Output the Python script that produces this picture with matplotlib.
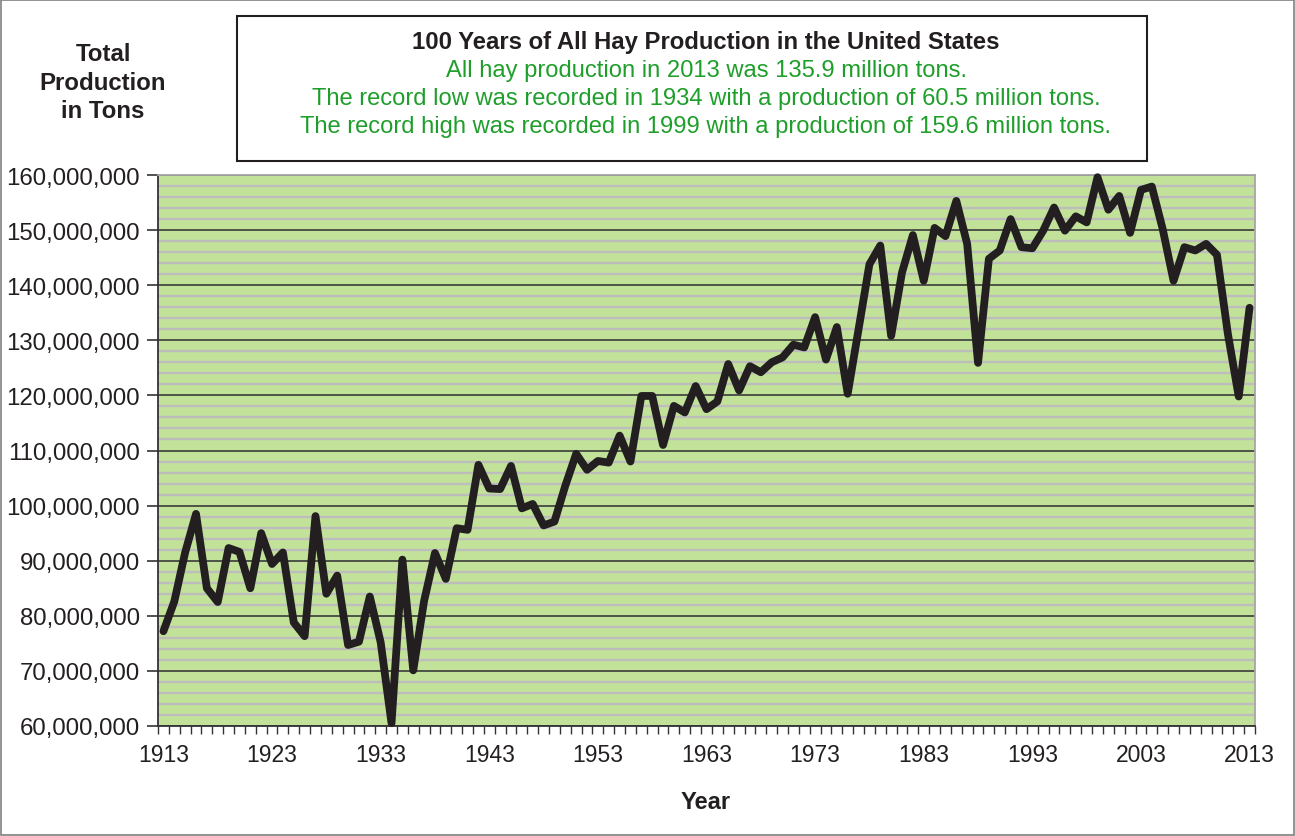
import matplotlib
matplotlib.use("Agg")
import matplotlib.pyplot as plt
from matplotlib.ticker import FuncFormatter, MultipleLocator, FixedLocator
from matplotlib.patches import Rectangle

plt.rcParams['font.family'] = ['Liberation Sans', 'DejaVu Sans']

years = list(range(1913, 2014))
production_millions = [
    77.2, 82.6, 91.5, 98.5, 85.0, 82.5, 92.3, 91.6, 85.0, 95.0,
    89.4, 91.5, 78.8, 76.3, 98.1, 84.0, 87.3, 74.7, 75.3, 83.5,
    75.2, 60.5, 90.2, 70.1, 82.7, 91.4, 86.7, 95.9, 95.6, 107.4,
    103.1, 103.0, 107.2, 99.5, 100.3, 96.4, 97.1, 103.6, 109.4, 106.5,
    108.1, 107.8, 112.7, 108.0, 119.9, 119.9, 111.0, 118.1, 116.9, 121.7,
    117.5, 118.9, 125.7, 120.9, 125.3, 124.2, 126.0, 126.9, 129.2, 128.7,
    134.2, 126.5, 132.4, 120.3, 132.0, 143.8, 147.2, 130.8, 142.3, 149.1,
    140.8, 150.4, 148.9, 155.3, 147.5, 125.9, 144.8, 146.3, 152.0, 146.9,
    146.7, 149.9, 154.1, 149.9, 152.5, 151.4, 159.6, 153.7, 156.2, 149.5,
    157.3, 157.9, 150.2, 140.8, 146.9, 146.3, 147.5, 145.5, 131.2, 119.8,
    135.9,
]
production = [v * 1e6 for v in production_millions]
year_labels = list(range(1913, 2014, 10))

title = "100 Years of All Hay Production in the United States"
notes = [
    "All hay production in 2013 was 135.9 million tons.",
    "The record low was recorded in 1934 with a production of 60.5 million tons.",
    "The record high was recorded in 1999 with a production of 159.6 million tons.",
]

W, H = 1295, 837
fig = plt.figure(figsize=(W / 100, H / 100), dpi=100)
fig.patch.set_facecolor('white')

def fx(px):
    return px / W

def fy(py):
    return 1 - py / H

ax = fig.add_axes([fx(158), fy(727), fx(1255) - fx(158), fy(176) - fy(727)])
ax.set_facecolor('#c2e299')

ax.set_xlim(years[0] - 0.5, years[-1] + 0.5)
ax.set_ylim(60e6, 160e6)

# gridlines
ax.yaxis.set_major_locator(MultipleLocator(10e6))
ax.yaxis.set_minor_locator(MultipleLocator(2e6))
ax.grid(which='minor', axis='y', color='#bdbdbd', linewidth=1.7, zorder=1)
ax.grid(which='major', axis='y', color='#3a3a3a', linewidth=1.2, zorder=1.5)
ax.set_axisbelow(True)

ax.plot(years, production, color='#231f20', linewidth=5.6,
        solid_joinstyle='round', solid_capstyle='round', zorder=3,
        clip_on=False)

ax.yaxis.set_major_formatter(FuncFormatter(lambda v, p: f"{int(round(v)):,}"))
ax.tick_params(axis='y', which='major', length=8, width=1.2, color='#333333',
               labelsize=17.3, labelcolor='#231f20', pad=5)
ax.tick_params(axis='y', which='minor', length=0)

ax.xaxis.set_major_locator(FixedLocator(year_labels))
ax.xaxis.set_minor_locator(FixedLocator([y - 0.5 for y in years] + [years[-1] + 0.5]))
ax.set_xticklabels([str(y) for y in year_labels])
ax.tick_params(axis='x', which='major', length=0, labelsize=16.5,
               labelcolor='#231f20', pad=12)
ax.tick_params(axis='x', which='minor', length=6, width=1.0, color='#333333',
               direction='out')

for s in ['left', 'bottom']:
    ax.spines[s].set_color('#333333')
    ax.spines[s].set_linewidth(1.3)
for s in ['top', 'right']:
    ax.spines[s].set_color('#a6a6a6')
    ax.spines[s].set_linewidth(1.3)

# Axis titles
fig.text(fx(103), fy(83), "Total\nProduction\nin Tons", ha='center', va='center',
         fontsize=17.3, fontweight='bold', color='#231f20', linespacing=1.3)
fig.text(fx(706), fy(803), "Year", ha='center', va='center',
         fontsize=17, fontweight='bold', color='#231f20')

# Title box
fig.patches.append(Rectangle((fx(237), fy(162)), fx(1147) - fx(237), fy(17) - fy(162),
                             transform=fig.transFigure, fill=False,
                             edgecolor='#231f20', linewidth=1.5))
fig.text(fx(706), fy(42), title, ha='center', va='center', fontsize=17.2,
         fontweight='bold', color='#231f20')
for i, line in enumerate(notes):
    fig.text(fx(706), fy(71 + 28 * i), line, ha='center', va='center',
             fontsize=17.1, color='#1e9e2a')

# Outer border
fig.patches.append(Rectangle((fx(1), fy(836)), fx(1293), fy(1) - fy(836),
                             transform=fig.transFigure, fill=False,
                             edgecolor='#808080', linewidth=1.2))

fig.savefig("out.png", dpi=100, facecolor='white')
